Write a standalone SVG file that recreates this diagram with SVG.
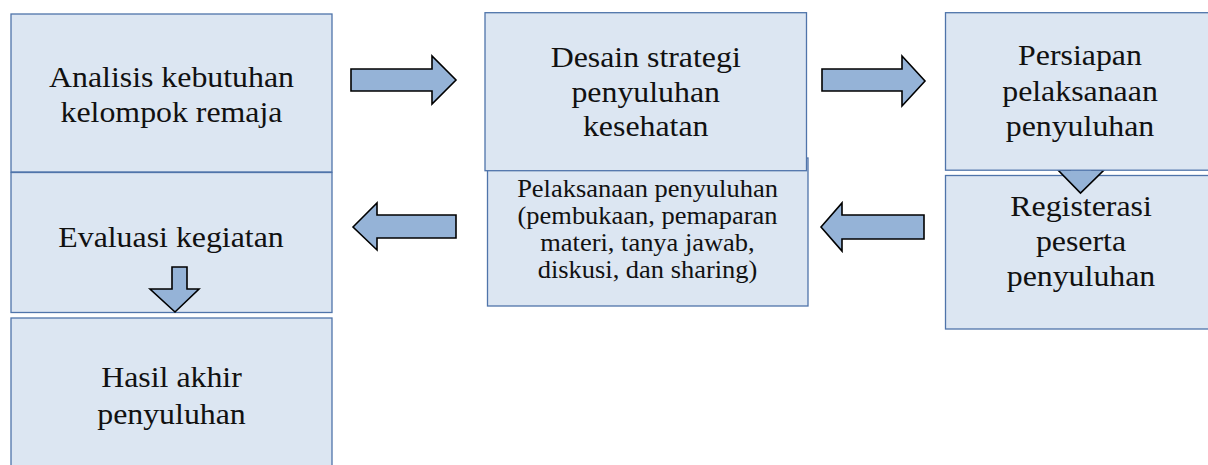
<svg xmlns="http://www.w3.org/2000/svg" width="1208" height="465" viewBox="0 0 1208 465">
<style>
.box{fill:#dce6f2;stroke:#4f74aa;stroke-width:1.3}
.arr{fill:#95b3d7;stroke:#000;stroke-width:1.6;stroke-linejoin:miter}
text{font-family:'Liberation Serif',serif;font-size:29.5px;fill:#111;text-anchor:middle}
text.s{font-size:24.5px}
</style>
<rect width="1208" height="465" fill="#fff"/>
<g id="n-analisis">
<rect class="box" x="11" y="14" width="321" height="158"/>
<text font-family="Liberation Serif" transform="translate(171.5,0) scale(1.08,1)"><tspan x="0" y="87.3">Analisis kebutuhan</tspan><tspan x="0" y="121.7">kelompok remaja</tspan></text>
</g>
<g id="n-evaluasi">
<rect class="box" x="11" y="172.5" width="321" height="140"/>
<text font-family="Liberation Serif" transform="translate(171,0) scale(1.08,1)"><tspan x="0" y="246.7">Evaluasi kegiatan</tspan></text>
</g>
<g id="n-hasil">
<rect class="box" x="11" y="318" width="321" height="160"/>
<text font-family="Liberation Serif" transform="translate(171.5,0) scale(1.08,1)"><tspan x="0" y="387.3">Hasil akhir</tspan><tspan x="0" y="424">penyuluhan</tspan></text>
</g>
<g id="n-pelaksanaan">
<rect class="box" x="487.5" y="158" width="320.5" height="148"/>
<text class="s" font-family="Liberation Serif" transform="translate(647.5,0) scale(1.08,1)"><tspan x="0" y="196.7">Pelaksanaan penyuluhan</tspan><tspan x="0" y="224">(pembukaan, pemaparan</tspan><tspan x="0" y="250.7">materi, tanya jawab,</tspan><tspan x="0" y="278.3">diskusi, dan sharing)</tspan></text>
</g>
<g id="n-desain">
<rect class="box" x="485" y="12.7" width="321.5" height="158"/>
<text font-family="Liberation Serif" transform="translate(645.7,0) scale(1.08,1)"><tspan x="0" y="67.3">Desain strategi</tspan><tspan x="0" y="101.7">penyuluhan</tspan><tspan x="0" y="136.1">kesehatan</tspan></text>
</g>
<g id="n-registerasi">
<rect class="box" x="945.5" y="175.5" width="275" height="153.5"/>
<text font-family="Liberation Serif" transform="translate(1081,0) scale(1.08,1)"><tspan x="0" y="216">Registerasi</tspan><tspan x="0" y="251.3">peserta</tspan><tspan x="0" y="286.5">penyuluhan</tspan></text>
</g>
<g id="connectors">
<polygon class="arr" points="351,69 432,69 432,56 456,80 432,104 432,91 351,91"/>
<polygon class="arr" points="822,69 902,69 902,56 925,81 902,106 902,91 822,91"/>
<polygon class="arr" points="353,227 377,203 377,215 456,215 456,238 377,238 377,250"/>
<polygon class="arr" points="821,227 842,203 842,215 924,215 924,239 842,239 842,251"/>
<polygon class="arr" points="172,267 187,267 187,289 199,289 175,312 150,289 172,289"/>
<polygon class="arr" points="1070,140 1092,140 1092,170 1104,170 1080.5,193 1058,170 1070,170" stroke-width="1.3"/>
</g>
<g id="n-persiapan">
<rect class="box" x="945.5" y="12.7" width="275" height="157.5"/>
<text font-family="Liberation Serif" transform="translate(1080,0) scale(1.08,1)"><tspan x="0" y="65.5">Persiapan</tspan><tspan x="0" y="100.7">pelaksanaan</tspan><tspan x="0" y="136">penyuluhan</tspan></text>
</g>
</svg>
